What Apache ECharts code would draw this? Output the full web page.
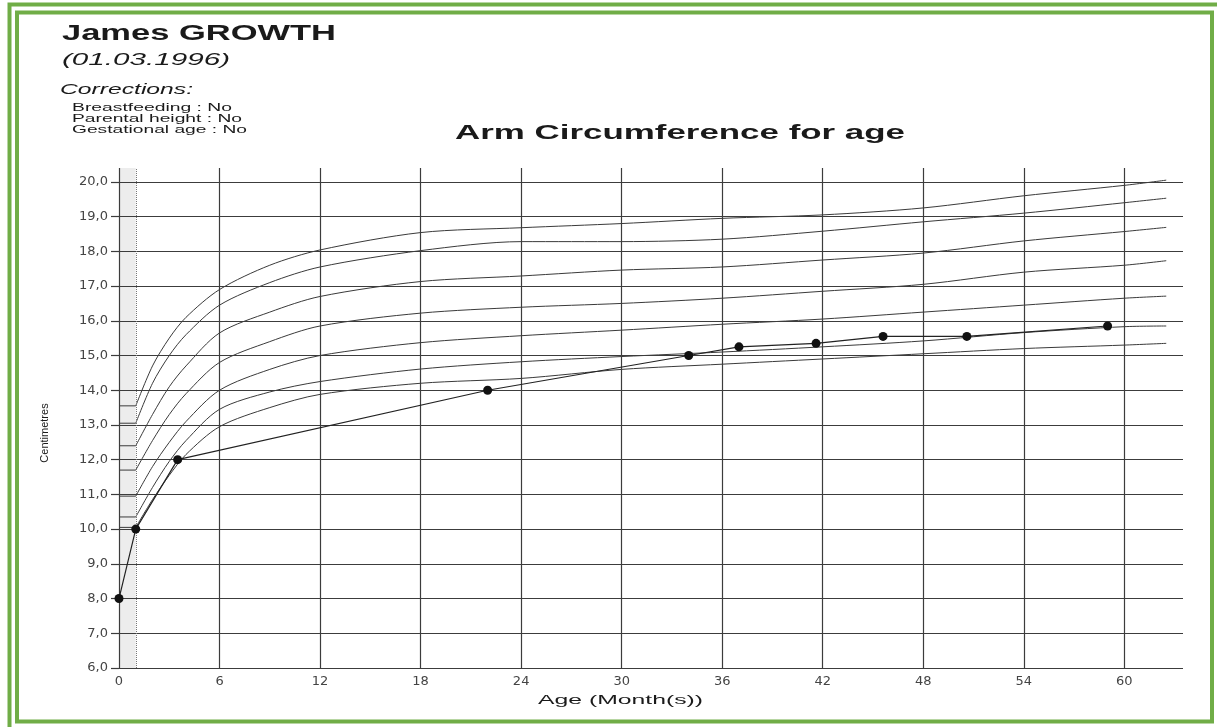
<!DOCTYPE html>
<html>
<head>
<meta charset="utf-8">
<script src="https://cdn.jsdelivr.net/npm/echarts@6/dist/echarts.min.js"></script>
<style>
  html, body { margin: 0; padding: 0; background: #fff; }
  #growth { width: 1217px; height: 727px; }
</style>
</head>
<body>
<div id="growth"></div>
<script>
/* reference curves (cm) read at these ages (months); first value is the flat start before 1 month */
var ages = [0, 1, 2, 3, 4, 6, 9, 12, 18, 24, 30, 36, 42, 48, 54, 60, 62.5];
var curve1 = [13.55, 13.55, 14.7, 15.5, 16.1, 16.9, 17.6, 18.04, 18.54, 18.68, 18.8, 18.95, 19.05, 19.25, 19.6, 19.9, 20.05];
var curve2 = [13.05, 13.05, 14.2, 15.0, 15.6, 16.45, 17.1, 17.55, 18.02, 18.28, 18.28, 18.35, 18.58, 18.85, 19.1, 19.4, 19.53];
var curve3 = [12.4, 12.4, 13.3, 14.1, 14.7, 15.65, 16.25, 16.7, 17.13, 17.29, 17.46, 17.55, 17.75, 17.95, 18.3, 18.57, 18.69];
var curve4 = [11.7, 11.7, 12.55, 13.3, 13.9, 14.8, 15.4, 15.85, 16.22, 16.39, 16.5, 16.65, 16.85, 17.05, 17.4, 17.6, 17.73];
var curve5 = [10.95, 10.95, 11.8, 12.5, 13.1, 14.0, 14.6, 15.0, 15.37, 15.57, 15.73, 15.9, 16.05, 16.25, 16.45, 16.65, 16.71];
var curve6 = [10.35, 10.35, 11.2, 11.95, 12.55, 13.45, 13.95, 14.25, 14.61, 14.82, 14.97, 15.1, 15.25, 15.42, 15.66, 15.83, 15.85];
var curve7 = [10.05, 10.05, 10.85, 11.55, 12.15, 12.95, 13.5, 13.88, 14.2, 14.34, 14.6, 14.75, 14.9, 15.05, 15.2, 15.3, 15.35];

/* James' measurements */
var childAges = [0, 1, 3.5, 22, 34, 37, 41.6, 45.6, 50.6, 59];
var childValues = [8.0, 10.0, 12.0, 14.0, 15.0, 15.25, 15.35, 15.55, 15.55, 15.85];

var xTicks = [0, 6, 12, 18, 24, 30, 36, 42, 48, 54, 60];
var yTicks = [6, 7, 8, 9, 10, 11, 12, 13, 14, 15, 16, 17, 18, 19, 20];
var correctionLines = ['Breastfeeding : No', 'Parental height : No', 'Gestational age : No'];

function pairs(xs, ys) {
  return xs.map(function (x, i) { return [x, ys[i]]; });
}

/* the scan is stretched sideways, so texts get a horizontal scale */
var measureCtx = document.createElement('canvas').getContext('2d');
function stretch(text, font, width) {
  measureCtx.font = font;
  return width / measureCtx.measureText(text).width;
}

function label(text, x, y, font, width, extra) {
  var el = {
    type: 'text', x: x, y: y, silent: true,
    scaleX: width ? stretch(text, font, width) : 1,
    style: { text: text, font: font, fill: '#1a1a1a', align: 'left', verticalAlign: 'middle' }
  };
  for (var k in extra) { el[k] = extra[k]; }
  for (var s in (extra && extra.styleExtra)) { el.style[s] = extra.styleExtra[s]; }
  delete el.styleExtra;
  return el;
}

var green = '#70ad47';
var graphics = [
  { type: 'rect', silent: true, shape: { x: 9.5, y: 4.5, width: 1212, height: 730 }, style: { fill: null, stroke: green, lineWidth: 4 } },
  { type: 'rect', silent: true, shape: { x: 17, y: 12.5, width: 1195, height: 709 }, style: { fill: null, stroke: green, lineWidth: 4 } },
  label('James GROWTH', 62, 34, 'bold 22px "Liberation Sans"', 274),
  label('(01.03.1996)', 62, 61, 'italic 16px "Liberation Sans"', 168),
  label('Corrections:', 60, 90, 'italic 14px "Liberation Sans"', 133),
  label('Arm Circumference for age', 455, 133, 'bold 21px "Liberation Sans"', 450),
  label('Centimetres', 45, 433, '11px "Liberation Sans"', 0, { rotation: Math.PI / 2, styleExtra: { align: 'center' } }),
  label('Age (Month(s))', 538, 700, '13px "Liberation Sans"', 165)
];
correctionLines.forEach(function (t, i) {
  graphics.push(label(t, 72, 108.5 + i * 11, '10px "Liberation Sans"', [160, 170, 175][i]));
});

var gridLines = xTicks.map(function (v) { return { xAxis: v }; })
  .concat(yTicks.map(function (v) { return { yAxis: v }; }));
gridLines.push({ xAxis: 1, lineStyle: { type: 'dotted', color: '#777', width: 1 } });

var curveStyle = { color: '#3a3a3a', width: 1 };
var curves = [];
[curve1, curve2, curve3, curve4, curve5, curve6, curve7].forEach(function (c) {
  var pts = pairs(ages, c);
  // flat start inside the shaded first month
  curves.push({ type: 'line', data: pts.slice(0, 2), showSymbol: false, silent: true, z: 3, lineStyle: curveStyle });
  // growth curve from 1 month on
  curves.push({ type: 'line', data: pts.slice(1), showSymbol: false, silent: true, smooth: 0.3, z: 3, lineStyle: curveStyle });
});

var option = {
  animation: false,
  backgroundColor: '#fff',
  grid: { left: 119, right: 34, top: 168, bottom: 59 },
  xAxis: {
    type: 'value', min: 0, max: 63.5, interval: 6,
    axisLine: { show: false }, axisTick: { show: false }, splitLine: { show: false },
    axisLabel: {
      customValues: xTicks, margin: 7,
      fontFamily: 'DejaVu Sans', fontSize: 13, color: '#444'
    }
  },
  yAxis: {
    type: 'value', min: 6, max: 20.4, interval: 1,
    axisLine: { show: false }, splitLine: { show: false },
    axisTick: { show: true, customValues: yTicks, length: 8, lineStyle: { color: '#3c3c3c', width: 1.2 } },
    axisLabel: {
      customValues: yTicks, margin: 11,
      fontFamily: 'DejaVu Sans', fontSize: 13, color: '#444',
      formatter: function (v) { return v.toFixed(1).replace('.', ','); }
    }
  },
  graphic: graphics,
  series: [{
    type: 'line', data: [], z: 1, silent: true,
    markArea: {
      silent: true,
      itemStyle: { color: 'rgba(0,0,0,0.07)' },
      data: [[{ xAxis: 0 }, { xAxis: 1 }]]
    },
    markLine: {
      silent: true, symbol: 'none', label: { show: false },
      lineStyle: { color: '#3c3c3c', width: 1.2, type: 'solid' },
      data: gridLines
    }
  }].concat(curves).concat([{
    type: 'line', data: pairs(childAges, childValues), z: 5, silent: true,
    symbol: 'circle', symbolSize: 9,
    itemStyle: { color: '#111' },
    lineStyle: { color: '#222', width: 1.2 }
  }])
};

var chart = echarts.init(document.getElementById('growth'));
chart.setOption(option);
window.addEventListener('resize', function () { chart.resize(); });
</script>
</body>
</html>
